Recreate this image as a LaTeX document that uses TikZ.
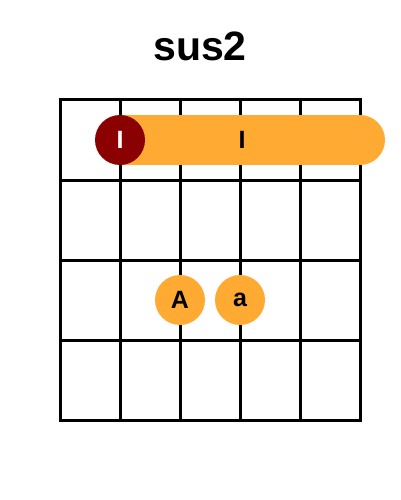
\documentclass[tikz,border=0pt]{standalone}
\usepackage{fontspec}
\setmainfont{Liberation Sans}
\definecolor{fingerorange}{HTML}{FFAA33}
\definecolor{rootred}{HTML}{8B0000}
\begin{document}
\begin{tikzpicture}[x=1pt, y=-1pt, line width=3pt,
    finger node/.style={circle, fill=fingerorange, minimum size=50pt, inner sep=0pt, font=\bfseries\fontsize{25}{25}\selectfont},
    root node/.style={finger node, fill=rootred, text=white}]

    \useasboundingbox (0,0) rectangle (400,500);

    % Title
    \node[font=\bfseries\fontsize{41}{41}\selectfont] (title) at (200,46) {sus2};

    % Fretboard
    \foreach \x in {60,120,180,240,300,360}
        \draw (\x,100) -- (\x,420);
    \foreach \y in {100,180,260,340,420}
        \draw (58.5,\y) -- (361.5,\y);

    % Barre
    \fill[fingerorange] (120,115) rectangle (360,165);
    \fill[fingerorange] (360,140) circle (25);
    \node[font=\bfseries\fontsize{25}{25}\selectfont] (barre) at (242,140) {I};
    \node[root node] (R) at (120,140) {I};

    % Fingers
    \node[finger node] (A) at (180,300) {A};
    \node[finger node] (a) at (240,300) {a};

\end{tikzpicture}
\end{document}
